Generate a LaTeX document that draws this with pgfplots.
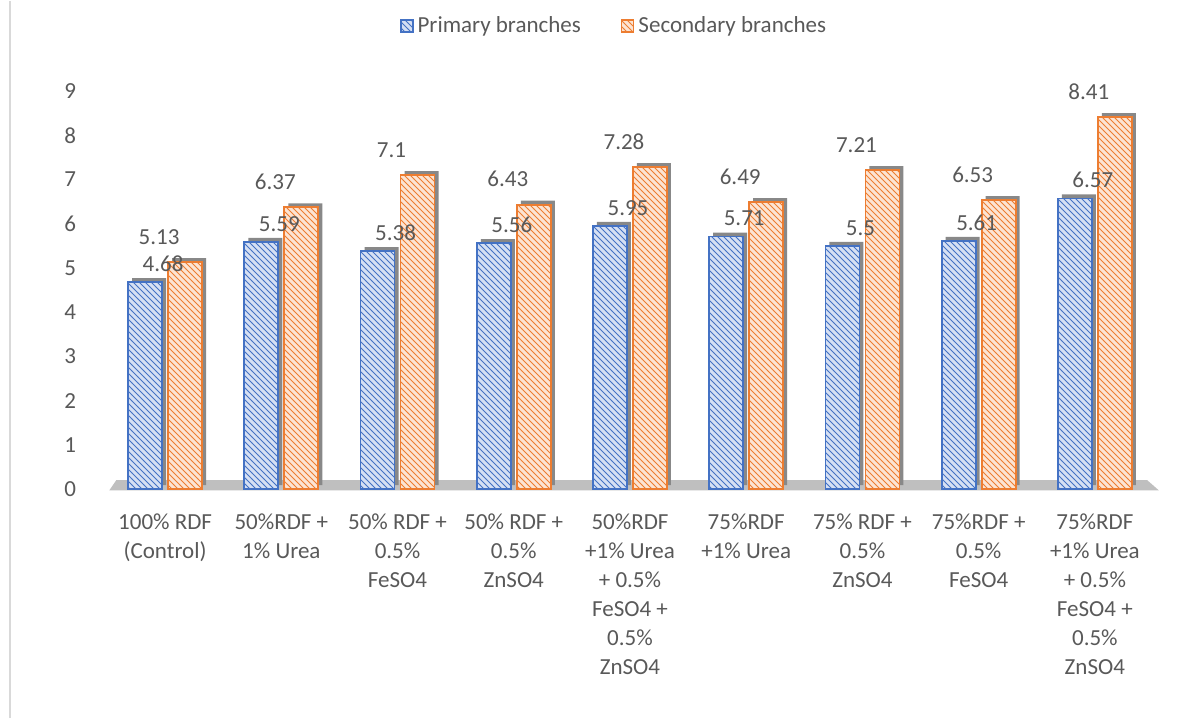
\documentclass[border=0pt]{standalone}
\usepackage{pgfplots}
\pgfplotsset{compat=1.18}
\usepackage{pgfplotstable}
\usepackage{fontspec}
\setmainfont{Carlito}
\usetikzlibrary{patterns}
\definecolor{bl}{HTML}{4472C4}
\definecolor{blf}{HTML}{D6E0F3}
\definecolor{orl}{HTML}{ED7D31}
\definecolor{orf}{HTML}{FCE4D3}
\definecolor{txt}{HTML}{595959}
\definecolor{border}{HTML}{D9D9D9}
\definecolor{floorc}{HTML}{BFBFBF}
\definecolor{depth}{HTML}{888888}
\pgfplotstableread{
x p s
0 4.68 5.13
1 5.59 6.37
2 5.38 7.1
3 5.56 6.43
4 5.95 7.28
5 5.71 6.49
6 5.5 7.21
7 5.61 6.53
8 6.57 8.41
}\data
\newcommand{\lab}{\fontsize{11.5}{14.5}\selectfont}
\begin{document}
\begin{tikzpicture}
\path (0,0) rectangle (600pt,358.5pt);
\draw[border, line width=1pt] (5pt,0) -- (5pt,358.5pt);
\begin{axis}[
  at={(53.5pt,114.5pt)}, anchor=south west,
  width=523pt, height=199pt, scale only axis,
  xmin=-0.5, xmax=8.5, ymin=0, ymax=9,
  axis line style={draw=none}, major tick length=0pt,
  ytick={0,...,9}, xtick={0,...,8},
  xticklabels={{100\% RDF\\(Control)},{50\%RDF +\\1\% Urea},{50\% RDF +\\0.5\%\\FeSO4},{50\% RDF +\\0.5\%\\ZnSO4},{50\%RDF\\+1\% Urea\\+ 0.5\%\\FeSO4 +\\0.5\%\\ZnSO4},{75\%RDF\\+1\% Urea},{75\% RDF +\\0.5\%\\ZnSO4},{75\%RDF +\\0.5\%\\FeSO4},{75\%RDF\\+1\% Urea\\+ 0.5\%\\FeSO4 +\\0.5\%\\ZnSO4}},
  xticklabel style={align=center, font=\lab, text=txt, yshift=-9pt},
  yticklabel style={font=\lab, text=txt, xshift=-12pt},
  /pgf/number format/assume math mode=true,
  clip=false, set layers,
  legend style={at={(0.4857,1.163)}, anchor=center, draw=none, fill=none,
    legend columns=2, font=\lab, text=txt,
    /tikz/every even column/.append style={column sep=18pt}},
  legend image code/.code={\draw[#1,line width=0.8pt] (0pt,-3pt) rectangle (6pt,3pt);},
]
\fill[floorc, on layer=axis background] (axis cs:-0.48,-0.03) -- (axis cs:8.55,-0.03) -- (axis cs:8.45,0.2) -- (axis cs:-0.42,0.2) -- cycle;
\addplot[ybar, bar width=17pt, bar shift=-8pt, fill=depth, draw=none, forget plot, yshift=2pt] table[x=x,y=p]{\data};
\addplot[ybar, bar width=17pt, bar shift=12pt, fill=depth, draw=none, forget plot, yshift=2pt] table[x=x,y=s]{\data};
\addplot[ybar, bar width=17pt, bar shift=-10pt, draw=bl, line width=0.9pt, fill=blf,
  postaction={pattern=north west lines, pattern color=bl},
  nodes near coords, every node near coord/.append style={font=\lab, text=txt, xshift=-1pt, yshift=1.5pt}]
  table[x=x,y=p]{\data};
\addlegendentry{Primary branches}
\addplot[ybar, bar width=17pt, bar shift=10pt, draw=orl, line width=0.9pt, fill=orf,
  postaction={pattern=north west lines, pattern color=orl},
  nodes near coords, every node near coord/.append style={font=\lab, text=txt, xshift=-3pt, yshift=5pt}]
  table[x=x,y=s]{\data};
\addlegendentry{Secondary branches}
\end{axis}
\end{tikzpicture}
\end{document}
